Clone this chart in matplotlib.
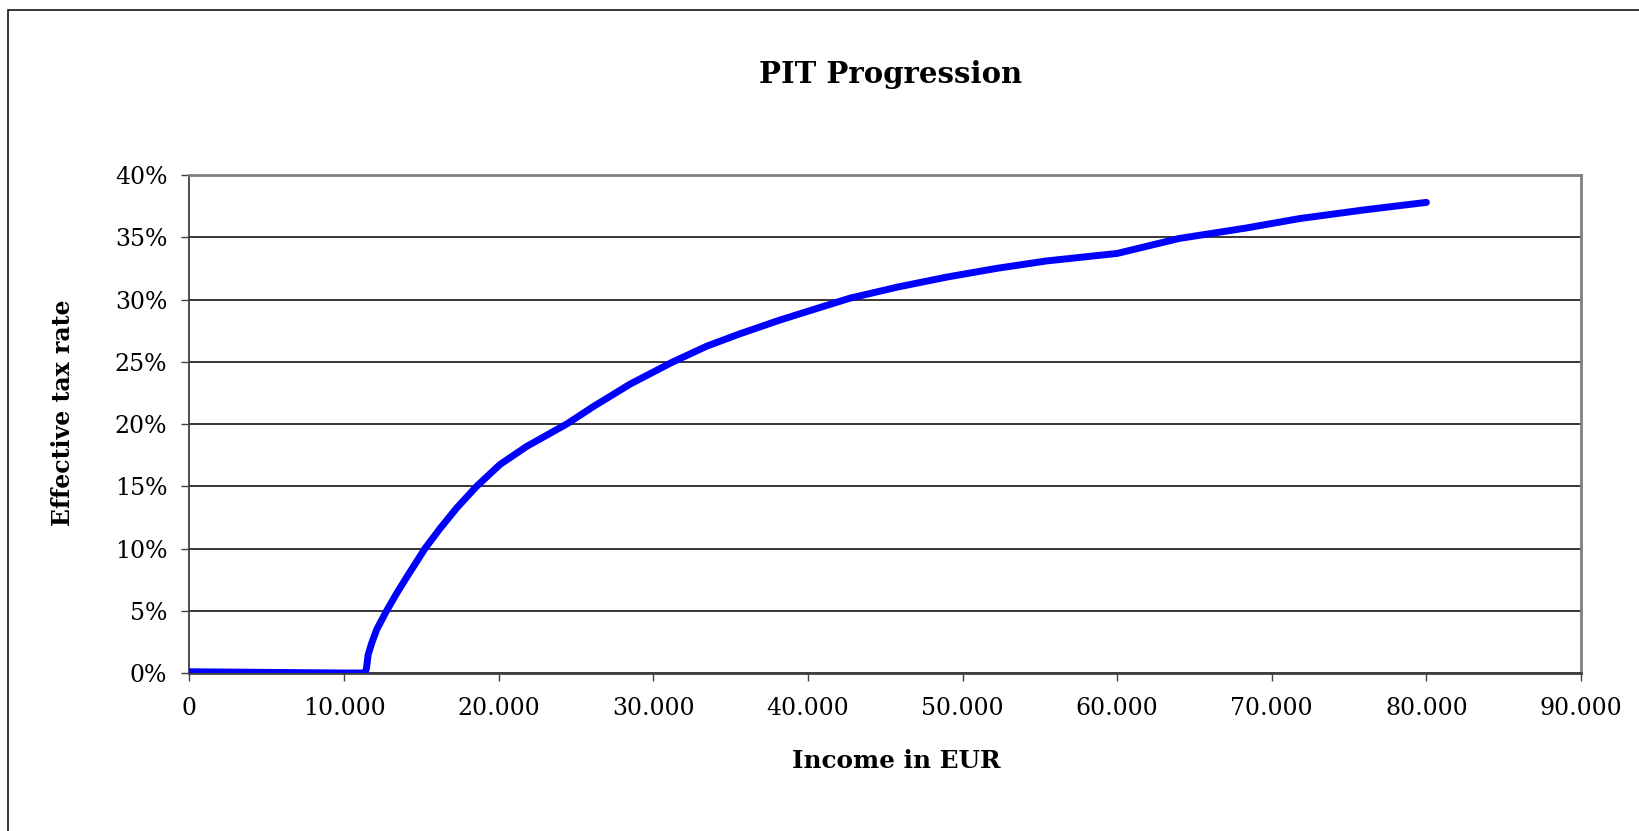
import matplotlib
matplotlib.use("Agg")
import matplotlib.pyplot as plt
from matplotlib.ticker import FuncFormatter, MultipleLocator
from matplotlib.patches import Rectangle

# income in EUR and effective tax rate in %
income = [0, 5000, 10000, 11350, 11450, 11550, 11785, 12110, 12750, 13400,
          14050, 15230, 16200, 17280, 18575, 20085, 21810, 24400, 26120, 28490,
          31200, 33455, 35610, 38190, 40500, 42700, 45800, 48980, 52200, 55450,
          60000, 64000, 68380, 71800, 76000, 80000]
tax_rate = [0.1, 0.05, 0.0, 0.0, 0.4, 1.45, 2.4, 3.5, 5.0, 6.4,
            7.7, 10.0, 11.6, 13.25, 15.0, 16.75, 18.2, 20.0, 21.4, 23.2,
            24.95, 26.25, 27.25, 28.35, 29.25, 30.1, 31.0, 31.8, 32.5, 33.1,
            33.7, 34.9, 35.75, 36.5, 37.2, 37.8]

plt.rcParams['font.family'] = ['DejaVu Serif']

fig = plt.figure(figsize=(16.4, 8.31), dpi=100)
ax = fig.add_axes([189.5 / 1640, 1 - 673 / 831, (1581 - 189.5) / 1640, (673 - 175) / 831])

# outer chart border (top and left visible, the rest falls off the picture)
fig.add_artist(Rectangle((8 / 1640, -0.1), 1.2, 1.1 - 10 / 831,
                         transform=fig.transFigure, fill=False,
                         edgecolor='black', linewidth=1.1, clip_on=False))

ax.plot(income, tax_rate, color='#0000ff', linewidth=5.0,
        solid_capstyle='round', solid_joinstyle='round', zorder=3)

ax.set_xlim(0, 90000)
ax.set_ylim(0, 40)
ax.xaxis.set_major_locator(MultipleLocator(10000))
ax.yaxis.set_major_locator(MultipleLocator(5))
ax.xaxis.set_major_formatter(FuncFormatter(lambda v, p: f"{int(v):,}".replace(",", ".")))
ax.yaxis.set_major_formatter(FuncFormatter(lambda v, p: f"{v:.0f}%"))

ax.yaxis.grid(True, color='black', linewidth=1.1)
ax.set_axisbelow(True)

for side in ['top', 'right']:
    ax.spines[side].set_color('#808080')
    ax.spines[side].set_linewidth(2.0)
ax.spines['left'].set_color('#404040')
ax.spines['left'].set_linewidth(1.3)
ax.spines['bottom'].set_color('#404040')
ax.spines['bottom'].set_linewidth(2.0)

ax.tick_params(axis='both', direction='out', length=6, width=1.0, color='#404040',
               labelsize=17, labelcolor='black')
ax.tick_params(axis='y', pad=10)
ax.tick_params(axis='x', pad=11)

fig.text(891 / 1640, 1 - 82.7 / 831, 'PIT Progression', ha='center', va='baseline',
         fontsize=21, fontweight='bold')
fig.text(896 / 1640, 1 - 768 / 831, 'Income in EUR', ha='center', va='baseline',
         fontsize=17.8, fontweight='bold')
fig.text(63 / 1640, 1 - 413 / 831, 'Effective tax rate', ha='center', va='center',
         rotation=90, fontsize=17, fontweight='bold')

fig.savefig('out.png', dpi=100, facecolor='white')
